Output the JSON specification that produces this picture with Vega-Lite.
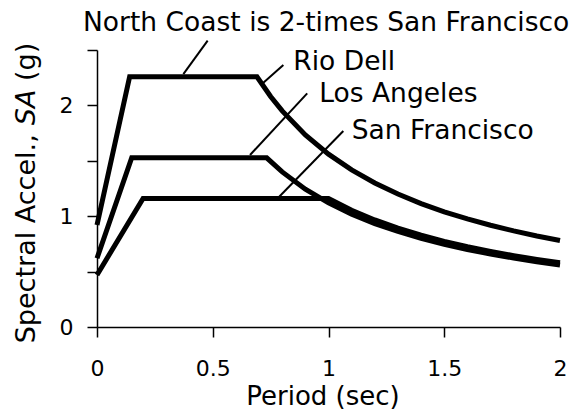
{
  "$schema": "https://vega.github.io/schema/vega-lite/v6.json",
  "width": 463,
  "height": 277,
  "autosize": {"type": "none"},
  "padding": {"left": 97, "top": 50, "right": 14, "bottom": 84},
  "background": "white",
  "config": {"view": {"stroke": null}, "font": "DejaVu Sans"},
  "datasets": {
    "curves": [
      {"series": "Rio Dell", "x": 0, "y": 0.92},
      {"series": "Rio Dell", "x": 0.141, "y": 2.258},
      {"series": "Rio Dell", "x": 0.691, "y": 2.258},
      {"series": "Rio Dell", "x": 0.75, "y": 2.08},
      {"series": "Rio Dell", "x": 0.8, "y": 1.95},
      {"series": "Rio Dell", "x": 0.9, "y": 1.733},
      {"series": "Rio Dell", "x": 1.0, "y": 1.56},
      {"series": "Rio Dell", "x": 1.1, "y": 1.418},
      {"series": "Rio Dell", "x": 1.2, "y": 1.3},
      {"series": "Rio Dell", "x": 1.3, "y": 1.2},
      {"series": "Rio Dell", "x": 1.4, "y": 1.114},
      {"series": "Rio Dell", "x": 1.5, "y": 1.04},
      {"series": "Rio Dell", "x": 1.6, "y": 0.975},
      {"series": "Rio Dell", "x": 1.7, "y": 0.918},
      {"series": "Rio Dell", "x": 1.8, "y": 0.867},
      {"series": "Rio Dell", "x": 1.9, "y": 0.821},
      {"series": "Rio Dell", "x": 2.0, "y": 0.78},
      {"series": "Los Angeles", "x": 0, "y": 0.62},
      {"series": "Los Angeles", "x": 0.15, "y": 1.527},
      {"series": "Los Angeles", "x": 0.733, "y": 1.527},
      {"series": "Los Angeles", "x": 0.8, "y": 1.4},
      {"series": "Los Angeles", "x": 0.9, "y": 1.244},
      {"series": "Los Angeles", "x": 1.0, "y": 1.12},
      {"series": "Los Angeles", "x": 1.1, "y": 1.018},
      {"series": "Los Angeles", "x": 1.2, "y": 0.933},
      {"series": "Los Angeles", "x": 1.3, "y": 0.862},
      {"series": "Los Angeles", "x": 1.4, "y": 0.8},
      {"series": "Los Angeles", "x": 1.5, "y": 0.747},
      {"series": "Los Angeles", "x": 1.6, "y": 0.7},
      {"series": "Los Angeles", "x": 1.7, "y": 0.659},
      {"series": "Los Angeles", "x": 1.8, "y": 0.622},
      {"series": "Los Angeles", "x": 1.9, "y": 0.589},
      {"series": "Los Angeles", "x": 2.0, "y": 0.56},
      {"series": "San Francisco", "x": 0, "y": 0.47},
      {"series": "San Francisco", "x": 0.199, "y": 1.159},
      {"series": "San Francisco", "x": 1.0, "y": 1.159},
      {"series": "San Francisco", "x": 1.1, "y": 1.054},
      {"series": "San Francisco", "x": 1.2, "y": 0.966},
      {"series": "San Francisco", "x": 1.3, "y": 0.892},
      {"series": "San Francisco", "x": 1.4, "y": 0.828},
      {"series": "San Francisco", "x": 1.5, "y": 0.773},
      {"series": "San Francisco", "x": 1.6, "y": 0.724},
      {"series": "San Francisco", "x": 1.7, "y": 0.682},
      {"series": "San Francisco", "x": 1.8, "y": 0.644},
      {"series": "San Francisco", "x": 1.9, "y": 0.61},
      {"series": "San Francisco", "x": 2.0, "y": 0.58}
    ],
    "leaders": [
      {"name": "North Coast", "x": 0.478, "y": 2.584, "x2": 0.373, "y2": 2.283},
      {"name": "Rio Dell", "x": 0.805, "y": 2.365, "x2": 0.716, "y2": 2.2},
      {"name": "Los Angeles", "x": 0.908, "y": 2.109, "x2": 0.661, "y2": 1.552},
      {"name": "San Francisco", "x": 1.064, "y": 1.769, "x2": 0.787, "y2": 1.176}
    ],
    "titleLabel": [
      {"label": "North Coast is 2-times San Francisco", "x": 0.99, "y": 2.674}
    ],
    "siteLabels": [
      {"label": "Rio Dell", "x": 0.848, "y": 2.315},
      {"label": "Los Angeles", "x": 0.96, "y": 2.033},
      {"label": "San Francisco", "x": 1.1, "y": 1.697}
    ],
    "yTitleNormal": [
      {"label": "Spectral Accel.,", "x": -0.268, "y": -0.147},
      {"label": "(g)", "x": -0.268, "y": 2.22}
    ],
    "yTitleItalic": [
      {"label": "SA", "x": -0.268, "y": 1.821}
    ]
  },
  "encoding": {
    "x": {
      "field": "x",
      "type": "quantitative",
      "scale": {"domain": [0, 2], "nice": false, "zero": false},
      "axis": {
        "values": [0, 0.5, 1, 1.5, 2],
        "format": "~g",
        "grid": false,
        "labelFont": "DejaVu Sans",
        "labelFontSize": 22,
        "labelColor": "black",
        "labelBaseline": "alphabetic",
        "labelPadding": 38,
        "labelFlush": false,
        "labelOverlap": false,
        "tickSize": 10,
        "tickWidth": 1.5,
        "tickColor": "black",
        "domainColor": "black",
        "domainWidth": 1.5,
        "title": "Period (sec)",
        "titleFont": "DejaVu Sans",
        "titleFontSize": 26,
        "titleFontWeight": "normal",
        "titleColor": "black",
        "titleX": 225.5,
        "titleY": 77,
        "titleAlign": "center",
        "titleBaseline": "alphabetic"
      }
    },
    "y": {
      "field": "y",
      "type": "quantitative",
      "scale": {"domain": [0, 2.5], "nice": false, "zero": false},
      "axis": {
        "values": [0, 0.5, 1, 1.5, 2, 2.5],
        "labelExpr": "datum.value % 1 === 0 ? datum.label : ''",
        "format": "~g",
        "grid": false,
        "labelFont": "DejaVu Sans",
        "labelFontSize": 22,
        "labelColor": "black",
        "labelPadding": 14,
        "labelOverlap": false,
        "tickSize": 10,
        "tickWidth": 1.5,
        "tickColor": "black",
        "domainColor": "black",
        "domainWidth": 1.5,
        "title": null
      }
    }
  },
  "layer": [
    {
      "data": {"name": "curves"},
      "mark": {"type": "line", "color": "black", "strokeWidth": 5, "strokeJoin": "miter", "strokeCap": "butt"},
      "encoding": {"detail": {"field": "series", "type": "nominal"}}
    },
    {
      "data": {"name": "leaders"},
      "mark": {"type": "rule", "color": "black", "strokeWidth": 2},
      "encoding": {
        "x2": {"field": "x2"},
        "y2": {"field": "y2"}
      }
    },
    {
      "data": {"name": "titleLabel"},
      "mark": {"type": "text", "font": "DejaVu Sans", "fontSize": 26.5, "align": "center", "baseline": "alphabetic", "color": "black"},
      "encoding": {"text": {"field": "label"}}
    },
    {
      "data": {"name": "siteLabels"},
      "mark": {"type": "text", "font": "DejaVu Sans", "fontSize": 26.5, "align": "left", "baseline": "alphabetic", "color": "black"},
      "encoding": {"text": {"field": "label"}}
    },
    {
      "data": {"name": "yTitleNormal"},
      "mark": {"type": "text", "font": "DejaVu Sans", "fontSize": 27, "angle": 270, "align": "left", "baseline": "alphabetic", "color": "black"},
      "encoding": {"text": {"field": "label"}}
    },
    {
      "data": {"name": "yTitleItalic"},
      "mark": {"type": "text", "font": "DejaVu Sans", "fontSize": 27, "fontStyle": "italic", "angle": 270, "align": "left", "baseline": "alphabetic", "color": "black"},
      "encoding": {"text": {"field": "label"}}
    }
  ]
}
